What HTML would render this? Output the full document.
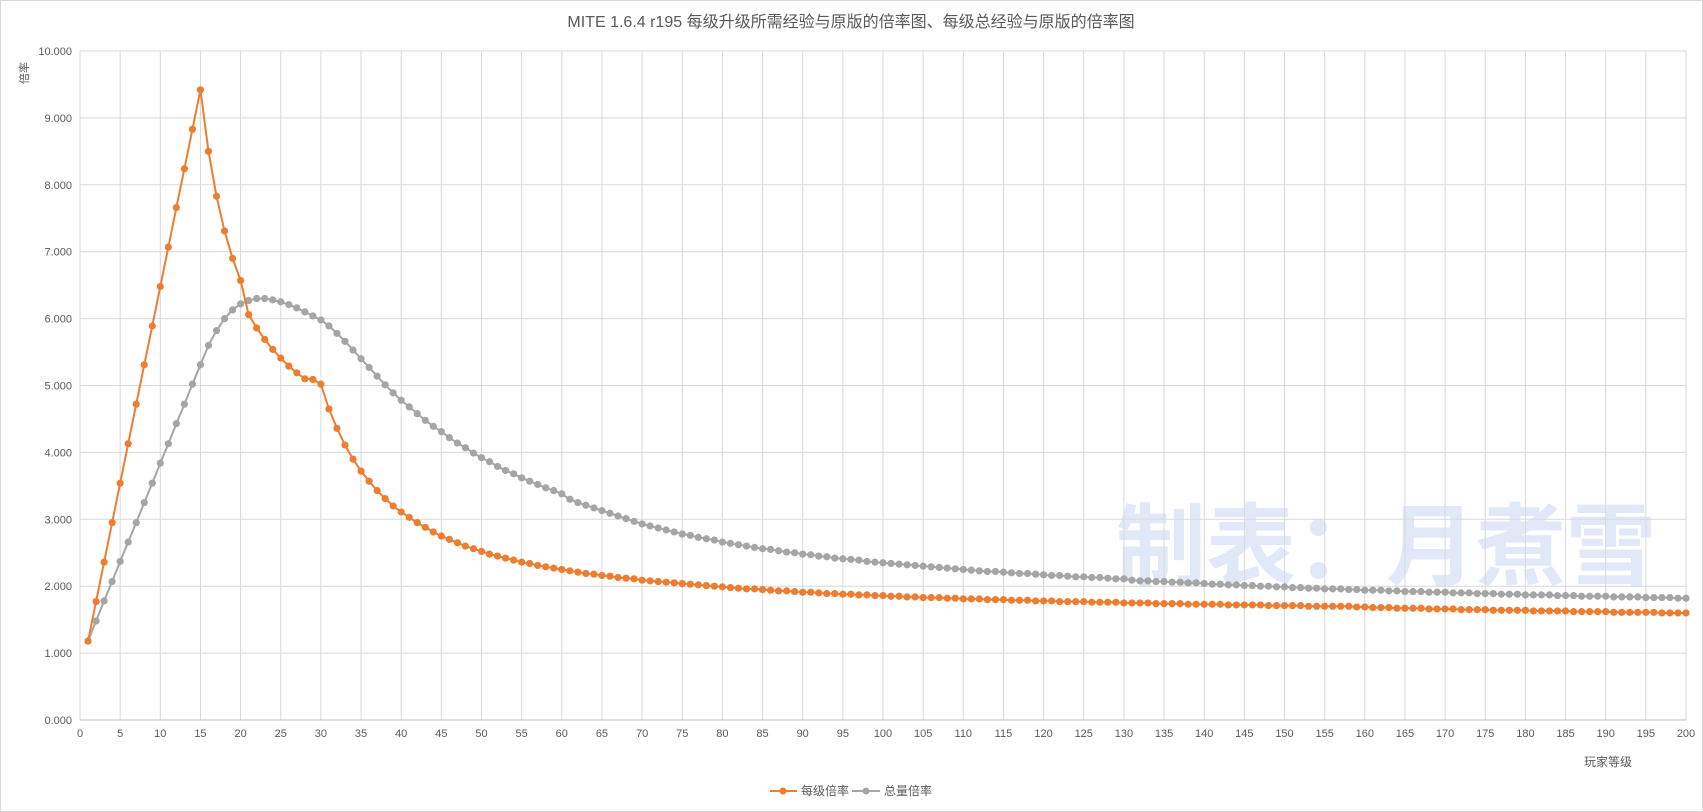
<!DOCTYPE html>
<html><head><meta charset="utf-8">
<style>
body{margin:0;background:#fff;}
svg{display:block;font-family:"Liberation Sans","Noto Sans CJK SC",sans-serif;}
</style></head>
<body>
<svg id="chart" width="1703" height="812" viewBox="0 0 1703 812">
<rect x="0.5" y="0.5" width="1702" height="811" fill="#fff" stroke="#d9d9d9"/>
<text x="851" y="27" text-anchor="middle" font-size="16" fill="#595959">MITE 1.6.4 r195 每级升级所需经验与原版的倍率图、每级总经验与原版的倍率图</text>
<text x="1386" y="578" text-anchor="middle" font-size="90" font-weight="bold" fill="#e1e8f7">制表：月煮雪</text>
<g id="grid"></g>
<g id="series"></g>
<text transform="translate(28,62) rotate(-90)" text-anchor="end" font-size="11" fill="#595959">倍率</text>
<text x="1608" y="766" text-anchor="middle" font-size="12" fill="#595959">玩家等级</text>
<g>
<g>
<line x1="770" y1="791" x2="797" y2="791" stroke="#ed7d31" stroke-width="2"/>
<circle cx="783" cy="791" r="3.5" fill="#ed7d31"/>
<text x="801" y="795" font-size="12" fill="#595959">每级倍率</text>
</g>
<g>
<line x1="852" y1="791" x2="880" y2="791" stroke="#a5a5a5" stroke-width="2"/>
<circle cx="866" cy="791" r="3.5" fill="#a5a5a5"/>
<text x="884" y="795" font-size="12" fill="#595959">总量倍率</text>
</g>
</g>
</svg>
<script>
const levels = Array.from({length:200},(_,i)=>i+1);
const perLevel = [
1.18,1.77,2.36,2.95,3.54,4.13,4.72,5.31,5.89,6.48,
7.07,7.66,8.24,8.83,9.42,8.50,7.83,7.31,6.90,6.57,
6.06,5.86,5.69,5.54,5.41,5.29,5.19,5.10,5.09,5.02,
4.65,4.36,4.11,3.90,3.72,3.57,3.43,3.31,3.20,3.11,
3.03,2.95,2.88,2.81,2.75,2.70,2.65,2.60,2.56,2.52,
2.48,2.45,2.42,2.39,2.36,2.34,2.31,2.29,2.27,2.25,
2.23,2.21,2.19,2.18,2.16,2.15,2.13,2.12,2.11,2.09,
2.08,2.07,2.06,2.05,2.04,2.03,2.02,2.01,2.00,1.99,
1.98,1.97,1.96,1.96,1.95,1.94,1.93,1.93,1.92,1.91,
1.91,1.90,1.89,1.89,1.88,1.88,1.87,1.87,1.86,1.86,
1.85,1.85,1.84,1.84,1.83,1.83,1.83,1.82,1.82,1.81,
1.81,1.81,1.80,1.80,1.80,1.79,1.79,1.79,1.78,1.78,
1.78,1.77,1.77,1.77,1.77,1.76,1.76,1.76,1.76,1.75,
1.75,1.75,1.75,1.74,1.74,1.74,1.74,1.73,1.73,1.73,
1.73,1.73,1.72,1.72,1.72,1.72,1.72,1.71,1.71,1.71,
1.71,1.71,1.70,1.70,1.70,1.70,1.70,1.70,1.69,1.69,
1.68,1.68,1.68,1.67,1.67,1.67,1.67,1.66,1.66,1.66,
1.66,1.65,1.65,1.65,1.65,1.64,1.64,1.64,1.64,1.64,
1.63,1.63,1.63,1.63,1.63,1.62,1.62,1.62,1.62,1.62,
1.61,1.61,1.61,1.61,1.61,1.61,1.60,1.60,1.60,1.60];
const totalRatio = [
1.18,1.48,1.78,2.07,2.37,2.66,2.95,3.25,3.54,3.84,
4.13,4.43,4.72,5.02,5.31,5.60,5.82,6.00,6.13,6.22,
6.27,6.30,6.30,6.28,6.25,6.21,6.16,6.10,6.04,5.98,
5.89,5.78,5.66,5.53,5.40,5.27,5.14,5.01,4.89,4.78,
4.68,4.58,4.48,4.39,4.31,4.22,4.14,4.07,3.99,3.92,
3.86,3.79,3.73,3.68,3.62,3.57,3.52,3.47,3.43,3.38,
3.30,3.25,3.21,3.17,3.13,3.09,3.05,3.01,2.97,2.93,
2.90,2.87,2.84,2.81,2.78,2.76,2.73,2.71,2.69,2.66,
2.64,2.62,2.60,2.58,2.56,2.55,2.53,2.51,2.50,2.48,
2.47,2.45,2.44,2.42,2.41,2.40,2.39,2.37,2.36,2.35,
2.34,2.33,2.32,2.31,2.30,2.29,2.28,2.27,2.26,2.25,
2.24,2.23,2.22,2.22,2.21,2.20,2.19,2.19,2.18,2.17,
2.16,2.16,2.15,2.14,2.14,2.13,2.13,2.12,2.11,2.11,
2.09,2.08,2.08,2.07,2.07,2.06,2.06,2.05,2.05,2.04,
2.03,2.03,2.02,2.02,2.01,2.01,2.00,2.00,1.99,1.99,
1.98,1.98,1.97,1.97,1.96,1.96,1.96,1.95,1.95,1.94,
1.94,1.94,1.93,1.93,1.92,1.92,1.92,1.91,1.91,1.91,
1.90,1.90,1.90,1.89,1.89,1.89,1.88,1.88,1.88,1.87,
1.87,1.87,1.87,1.86,1.86,1.86,1.85,1.85,1.85,1.85,
1.84,1.84,1.84,1.84,1.83,1.83,1.83,1.83,1.82,1.82];
const yTicks = [0,1,2,3,4,5,6,7,8,9,10];
const xTicks = Array.from({length:41},(_,i)=>i*5);

const NS="http://www.w3.org/2000/svg";
const L=80,R=1686,T=51,B=720;
const xs=v=>L+(v/200)*(R-L);
const ys=v=>B-(v/10)*(B-T);
function mk(tag,attrs,parent){const e=document.createElementNS(NS,tag);for(const k in attrs)e.setAttribute(k,attrs[k]);parent.appendChild(e);return e;}
const grid=document.getElementById('grid');
yTicks.forEach(t=>{
  const ln=mk('line',{x1:L,x2:R,y1:ys(t),y2:ys(t),stroke:'#d9d9d9','stroke-width':1},grid);
  
  
  const tx=mk('text',{x:L-8,y:ys(t)+4,'text-anchor':'end','font-size':11,fill:'#595959'},grid);
  tx.textContent=t.toFixed(3);
  
  
});
xTicks.forEach(t=>{
  const ln=mk('line',{x1:xs(t),x2:xs(t),y1:T,y2:B,stroke:'#d9d9d9','stroke-width':1},grid);
  
  
  const tx=mk('text',{x:xs(t),y:B+17,'text-anchor':'middle','font-size':11,fill:'#595959'},grid);
  tx.textContent=t;
  
  
});
const ax=mk('line',{x1:L,x2:R,y1:B,y2:B,stroke:'#bfbfbf','stroke-width':1},grid);


const ser=document.getElementById('series');
function draw(vals,color,name){
  const g=mk('g',{},ser);
  
  
  const pts=vals.map((v,i)=>xs(levels[i])+','+ys(v)).join(' ');
  const pl=mk('polyline',{points:pts,fill:'none',stroke:color,'stroke-width':2},g);
  
  
  vals.forEach((v,i)=>{
    const c=mk('circle',{cx:xs(levels[i]),cy:ys(v),r:3.6,fill:color},g);
    
    
  });
}
draw(totalRatio,'#a5a5a5','series-total');
draw(perLevel,'#ed7d31','series-per-level');
</script>
</body></html>
